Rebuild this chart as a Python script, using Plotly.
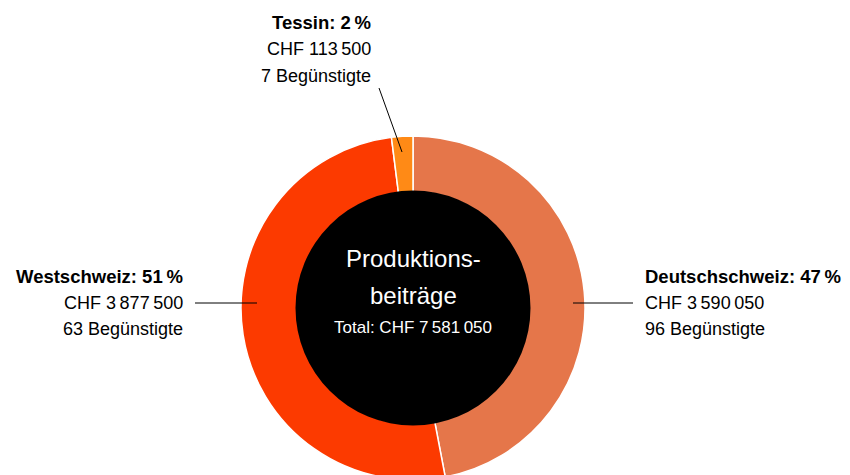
import plotly.graph_objects as go

# ---- data ----
regions = ["Deutschschweiz", "Westschweiz", "Tessin"]
shares = [47, 51, 2]                      # percent, drives wedge sizes
amounts = [3590050, 3877500, 113500]      # CHF
beneficiaries = [96, 63, 7]
total_amount = 7581050
center_title = ["Produktions-", "beiträge"]
colors = ["#E5764A", "#FC3A00", "#FF8A16"]

W, H = 850, 475
OFF = 8  # page body margin offset
FONT = "Liberation Sans, Arial, sans-serif"


def fmt(n):
    return f"{n:,}".replace(",", "\u2009")


def px(x):
    return (x - OFF) / W


def py(y):
    return 1 - (y - OFF) / H


# pie geometry (window pixels)
cx, cy, R, r_in = 413, 308, 172, 116

fig = go.Figure()
fig.add_trace(go.Pie(
    labels=regions, values=shares, sort=False, direction="clockwise", rotation=0,
    hole=r_in / R, textinfo="none", hoverinfo="label+percent",
    marker=dict(colors=colors, line=dict(color="white", width=1.5)),
    domain=dict(x=[px(cx - R), px(cx + R)], y=[max(0, py(cy + R)), py(cy - R)]),
    showlegend=False,
))
rb = r_in + 1.5
fig.add_trace(go.Pie(
    values=[total_amount], labels=["Total"], sort=False, textinfo="none", hoverinfo="none",
    marker=dict(colors=["black"], line=dict(width=0)),
    domain=dict(x=[px(cx - rb), px(cx + rb)], y=[py(cy + rb), py(cy - rb)]),
    showlegend=False,
))

ann = []
# center text
ann.append(dict(x=px(cx), y=py(258), text=center_title[0], font=dict(size=24, color="white")))
ann.append(dict(x=px(cx), y=py(295), text=center_title[1], font=dict(size=24, color="white")))
ann.append(dict(x=px(cx), y=py(327), text=f"Total: CHF {fmt(total_amount)}", font=dict(size=17, color="white")))

# outer labels: (x anchor px, xanchor, y of first line)
label_pos = {
    "Deutschschweiz": (643, "left", 276),
    "Westschweiz": (185, "right", 276),
    "Tessin": (373, "right", 23),
}
for name, sh, am, bn in zip(regions, shares, amounts, beneficiaries):
    x, xa, y0 = label_pos[name]
    lines = [f"<b>{name}: {sh}\u2009%</b>", f"CHF {fmt(am)}", f"{bn} Begünstigte"]
    sizes = [18.5, 18, 18]
    for i, t in enumerate(lines):
        ann.append(dict(x=px(x), y=py(y0 + 26.5 * i), text=t, xanchor=xa,
                        font=dict(size=sizes[i], color="black")))

for a in ann:
    a.update(xref="paper", yref="paper", showarrow=False, yanchor="middle")
    a.setdefault("xanchor", "center")

shapes = [
    dict(type="line", xref="paper", yref="paper", x0=px(195), y0=py(303), x1=px(257), y1=py(303),
         line=dict(color="black", width=1)),
    dict(type="line", xref="paper", yref="paper", x0=px(573), y0=py(303), x1=px(633), y1=py(303),
         line=dict(color="black", width=1)),
    dict(type="line", xref="paper", yref="paper", x0=px(379), y0=py(88), x1=px(402), y1=py(152),
         line=dict(color="black", width=1)),
]

fig.update_layout(
    width=W, height=H, margin=dict(l=0, r=0, t=0, b=0),
    paper_bgcolor="white", plot_bgcolor="white",
    font=dict(family=FONT, color="black"),
    annotations=ann, shapes=shapes,
)
fig.write_html("out.html")
